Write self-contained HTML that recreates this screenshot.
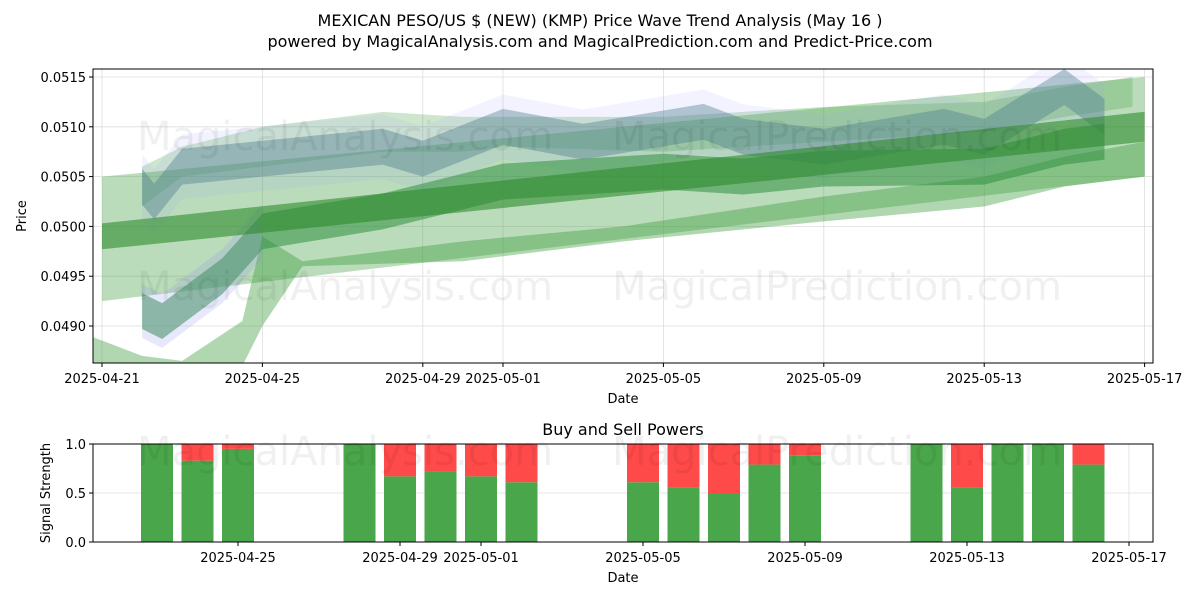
<!DOCTYPE html>
<html><head><meta charset="utf-8"><style>
body{margin:0;background:#fff;font-family:"Liberation Sans","DejaVu Sans",sans-serif;}
svg text{font-family:"DejaVu Sans","Liberation Sans",sans-serif;}
</style></head><body>
<svg id="chart" width="1200" height="600" xmlns="http://www.w3.org/2000/svg">
<text x="600" y="26" text-anchor="middle" font-size="16">MEXICAN PESO/US $ (NEW) (KMP) Price Wave Trend Analysis (May 16 )</text>
<text x="600" y="47" text-anchor="middle" font-size="16">powered by MagicalAnalysis.com and MagicalPrediction.com and Predict-Price.com</text>
<g id="topg"></g>
<g id="botg"></g>
</svg>
<script>
// ---- data ----
const topDateLabels=["2025-04-21","2025-04-25","2025-04-29","2025-05-01","2025-05-05","2025-05-09","2025-05-13","2025-05-17"];
const topDateDays=[0,4,8,10,14,18,22,26];
const priceTicks=[0.0490,0.0495,0.0500,0.0505,0.0510,0.0515];
const bandWideDays=[0,26];
const bandWideUpper=[0.05050,0.05150];
const bandWideLower=[0.04925,0.05050];
const bandLinDays=[0,26];
const bandLinUpper=[0.05003,0.05115];
const bandLinLower=[0.04977,0.05085];
const bandLowDays=[-0.3,1,2,3.5,4,5,9,13,18,22,24,26];
const bandLowUpper=[0.04890,0.04870,0.04865,0.04905,0.04990,0.04965,0.04985,0.05000,0.05030,0.05050,0.05070,0.05085];
const bandLowLower=[0.04860,0.04830,0.04830,0.04860,0.04900,0.04960,0.04965,0.04985,0.05005,0.05020,0.05040,0.05050];
const bandHiDays=[1,2,4,7,9,10,14,18,22,24,25.7];
const bandHiUpper=[0.05060,0.05080,0.05100,0.05115,0.05110,0.05110,0.05110,0.05120,0.05125,0.05140,0.05150];
const bandHiLower=[0.05020,0.05050,0.05060,0.05075,0.05075,0.05080,0.05075,0.05085,0.05095,0.05110,0.05120];
const blueTopDays=[1,1.3,2,4,7,8,10,12,15,16,18,21,22,24,25];
const blueTopVals=[0.05040,0.05025,0.05060,0.05068,0.05080,0.05068,0.05100,0.05085,0.05105,0.05090,0.05080,0.05100,0.05090,0.05140,0.05110];
const blueLowDays=[1,1.5,3,4,7,10,14,16,18,22,24,25];
const blueLowVals=[0.04915,0.04905,0.04950,0.04995,0.05015,0.05045,0.05055,0.05050,0.05058,0.05060,0.05080,0.05085];
const blueHalf=0.00018;
const barDays=[2,3,4,7,8,9,10,11,14,15,16,17,18,21,22,23,24,25];
const buyVals=[1.0,0.83,0.95,1.0,0.67,0.72,0.67,0.61,0.61,0.56,0.50,0.79,0.88,1.0,0.56,1.0,1.0,0.79];
const botDateLabels=["2025-04-25","2025-04-29","2025-05-01","2025-05-05","2025-05-09","2025-05-13","2025-05-17"];
const botDateDays=[4,8,10,14,18,22,26];
const strengthTicks=[0.0,0.5,1.0];

const NS="http://www.w3.org/2000/svg";
function mk(tag,attrs,parent,txt){const e=document.createElementNS(NS,tag);for(const k in attrs)e.setAttribute(k,attrs[k]);if(txt!==undefined)e.textContent=txt;parent.appendChild(e);return e;}
const gTop=document.getElementById('topg'),gBot=document.getElementById('botg');
const xT=d=>102+d*40.1, yT=v=>77+(0.0515-v)/0.0025*249;
const xB=d=>238+(d-4)*40.5, yB=v=>542-v*98;
const L=93,R=1153,T1=69,B1=363,T2=444,B2=542;

[[345,150,"MagicalAnalysis.com"],[837,150,"MagicalPrediction.com"],[345,300,"MagicalAnalysis.com"],[837,300,"MagicalPrediction.com"],[345,465,"MagicalAnalysis.com"],[837,465,"MagicalPrediction.com"]].forEach(w=>{
const t=mk('text',{x:w[0],y:w[1],'text-anchor':'middle','font-size':40,fill:'#000','fill-opacity':0.06},document.getElementById('chart'),w[2]);


});

topDateDays.forEach(d=>{const l=mk('line',{x1:xT(d),x2:xT(d),y1:T1,y2:B1,stroke:'#ddd','stroke-width':0.8},gTop);

});
priceTicks.forEach(v=>{const l=mk('line',{x1:L,x2:R,y1:yT(v),y2:yT(v),stroke:'#ddd','stroke-width':0.8},gTop);

});

const clip=mk('clipPath',{id:'c1'},gTop);mk('rect',{x:L,y:T1,width:R-L,height:B1-T1},clip);
const bands=mk('g',{'clip-path':'url(#c1)'},gTop);


function band(days,up,lo,fill,op,name){
 let p=days.map((d,i)=>xT(d)+','+yT(up[i]));
 for(let i=days.length-1;i>=0;i--)p.push(xT(days[i])+','+yT(lo[i]));
 const e=mk('polygon',{points:p.join(' '),fill:fill,'fill-opacity':op},bands);
 
 
}
band(bandWideDays,bandWideUpper,bandWideLower,'#3a9a3a',0.35,'wide-band');
band(bandLowDays,bandLowUpper,bandLowLower,'#3a9a3a',0.4,'low-band');
band(bandHiDays,bandHiUpper,bandHiLower,'#3a9a3a',0.25,'high-band');
band(blueTopDays,blueTopVals.map(v=>v+blueHalf*1.8),blueTopVals.map(v=>v-blueHalf*1.8),'#9a9aff',0.12,'blue-upper-halo');
band(blueTopDays,blueTopVals.map(v=>v+blueHalf),blueTopVals.map(v=>v-blueHalf),'#4a7a8a',0.4,'blue-upper-band');
band(blueLowDays,blueLowVals.map(v=>v+blueHalf),blueLowVals.map(v=>v-blueHalf),'#2f8f3f',0.55,'green-lower-band');
band(blueLowDays.slice(0,4),blueLowVals.slice(0,4).map(v=>v+blueHalf*1.5),blueLowVals.slice(0,4).map(v=>v-blueHalf*1.5),'#8a8aef',0.2,'blue-lower-halo');
band(bandLinDays,bandLinUpper,bandLinLower,'#2e8b2e',0.6,'linear-trend-band');

mk('rect',{x:L,y:T1,width:R-L,height:B1-T1,fill:'none',stroke:'#000','stroke-width':1},gTop);
topDateDays.forEach((d,i)=>{mk('line',{x1:xT(d),x2:xT(d),y1:B1,y2:B1+4,stroke:'#000'},gTop);
const t=mk('text',{x:xT(d),y:B1+20,'text-anchor':'middle','font-size':13},gTop,topDateLabels[i]);

});
priceTicks.forEach(v=>{mk('line',{x1:L-4,x2:L,y1:yT(v),y2:yT(v),stroke:'#000'},gTop);
const t=mk('text',{x:L-7,y:yT(v)+5,'text-anchor':'end','font-size':13},gTop,v.toFixed(4));

});
let tt=mk('text',{x:623,y:403,'text-anchor':'middle','font-size':13},gTop,'Date');


tt=mk('text',{x:26,y:216,'text-anchor':'middle','font-size':13,transform:'rotate(-90 26 216)'},gTop,'Price');



tt=mk('text',{x:623,y:435,'text-anchor':'middle','font-size':16},gBot,'Buy and Sell Powers');


strengthTicks.forEach(v=>{const l=mk('line',{x1:L,x2:R,y1:yB(v),y2:yB(v),stroke:'#ddd','stroke-width':0.8},gBot);

});
botDateDays.forEach(d=>{const l=mk('line',{x1:xB(d),x2:xB(d),y1:T2,y2:B2,stroke:'#ddd','stroke-width':0.8},gBot);

});
barDays.forEach((d,i)=>{const w=32,x=xB(d)-w/2;
const g=mk('rect',{x:x,y:yB(buyVals[i]),width:w,height:yB(0)-yB(buyVals[i]),fill:'#4aa64a'},gBot);


const r=mk('rect',{x:x,y:yB(1),width:w,height:yB(buyVals[i])-yB(1),fill:'#ff4a4a'},gBot);

});
mk('rect',{x:L,y:T2,width:R-L,height:B2-T2,fill:'none',stroke:'#000','stroke-width':1},gBot);
botDateDays.forEach((d,i)=>{mk('line',{x1:xB(d),x2:xB(d),y1:B2,y2:B2+4,stroke:'#000'},gBot);
const t=mk('text',{x:xB(d),y:B2+20,'text-anchor':'middle','font-size':13},gBot,botDateLabels[i]);

});
strengthTicks.forEach(v=>{mk('line',{x1:L-4,x2:L,y1:yB(v),y2:yB(v),stroke:'#000'},gBot);
const t=mk('text',{x:L-7,y:yB(v)+5,'text-anchor':'end','font-size':13},gBot,v.toFixed(1));

});
tt=mk('text',{x:623,y:582,'text-anchor':'middle','font-size':13},gBot,'Date');


tt=mk('text',{x:50,y:493,'text-anchor':'middle','font-size':13,transform:'rotate(-90 50 493)'},gBot,'Signal Strength');


</script>
</body></html>
